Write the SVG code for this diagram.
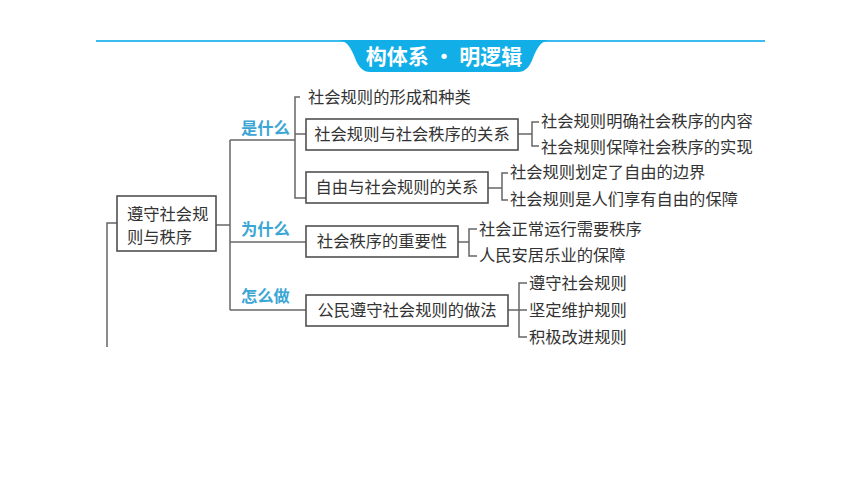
<svg xmlns="http://www.w3.org/2000/svg" width="860" height="486" viewBox="0 0 860 486">
<style>
text{font-family:"Noto Sans CJK SC","Noto Sans",sans-serif;font-size:16.3px;fill:#333;}
.lbl{fill:#3ba6d4;font-weight:bold;}
.box{fill:#fff;stroke:#505050;stroke-width:1.6;}
.ln{fill:none;stroke:#666;stroke-width:1.5;}
.title{fill:#fff;font-size:21px;font-weight:bold;}
</style>
<rect width="860" height="486" fill="#fff"/>
<g id="header">
<line x1="96" y1="41" x2="765" y2="41" stroke="#3cbcee" stroke-width="2"/>
<path d="M337 40 C347 40 351 48 355 58 Q360 72 370 72 L518 72 Q528 72 533 58 C537 48 541 40 551 40 Z" fill="#12aee8"/>
<text class="title" x="444" y="64" text-anchor="middle">构体系 · 明逻辑</text>
</g>
<g id="connectors">
<path class="ln" d="M107 347 V223 H117"/>
<path class="ln" d="M216 225 H230"/>
<path class="ln" d="M230 140 V310"/>
<path class="ln" d="M230 140 H295"/>
<path class="ln" d="M300 97 H295 V198 H306"/>
<path class="ln" d="M295 134 H306"/>
<path class="ln" d="M230 242 H306"/>
<path class="ln" d="M230 310 H306"/>
<path class="ln" d="M518 134 H532"/>
<path class="ln" d="M539 122 H532 V146 H539"/>
<path class="ln" d="M488 188 H502"/>
<path class="ln" d="M508 173 H502 V200 H508"/>
<path class="ln" d="M458 242 H469"/>
<path class="ln" d="M477 229 H469 V256 H477"/>
<path class="ln" d="M508 310 H527"/>
<path class="ln" d="M527 283 H519 V337 H527"/>
</g>
<g id="root">
<rect class="box" x="117" y="196" width="99" height="55"/>
<text x="127" y="220">遵守社会规</text>
<text x="127" y="243">则与秩序</text>
</g>
<g id="label-what"><text class="lbl" x="241" y="134">是什么</text></g>
<g id="label-why"><text class="lbl" x="241" y="235">为什么</text></g>
<g id="label-how"><text class="lbl" x="241" y="302">怎么做</text></g>
<g id="n-formation"><text x="308" y="103">社会规则的形成和种类</text></g>
<g id="n-rules-order">
<rect class="box" x="306" y="119" width="212" height="31"/>
<text x="412" y="140" text-anchor="middle">社会规则与社会秩序的关系</text>
</g>
<g id="n-clarify"><text x="541" y="127">社会规则明确社会秩序的内容</text></g>
<g id="n-guarantee"><text x="541" y="153">社会规则保障社会秩序的实现</text></g>
<g id="n-freedom">
<rect class="box" x="306" y="172" width="182" height="31"/>
<text x="397" y="193" text-anchor="middle">自由与社会规则的关系</text>
</g>
<g id="n-boundary"><text x="510" y="178">社会规则划定了自由的边界</text></g>
<g id="n-protect"><text x="510" y="205">社会规则是人们享有自由的保障</text></g>
<g id="n-importance">
<rect class="box" x="306" y="226" width="152" height="31"/>
<text x="382" y="247" text-anchor="middle">社会秩序的重要性</text>
</g>
<g id="n-normal"><text x="479" y="235">社会正常运行需要秩序</text></g>
<g id="n-people"><text x="479" y="261">人民安居乐业的保障</text></g>
<g id="n-practice">
<rect class="box" x="306" y="295" width="202" height="31"/>
<text x="407" y="316" text-anchor="middle">公民遵守社会规则的做法</text>
</g>
<g id="n-obey"><text x="529" y="289">遵守社会规则</text></g>
<g id="n-defend"><text x="529" y="316">坚定维护规则</text></g>
<g id="n-improve"><text x="529" y="343">积极改进规则</text></g>
</svg>
